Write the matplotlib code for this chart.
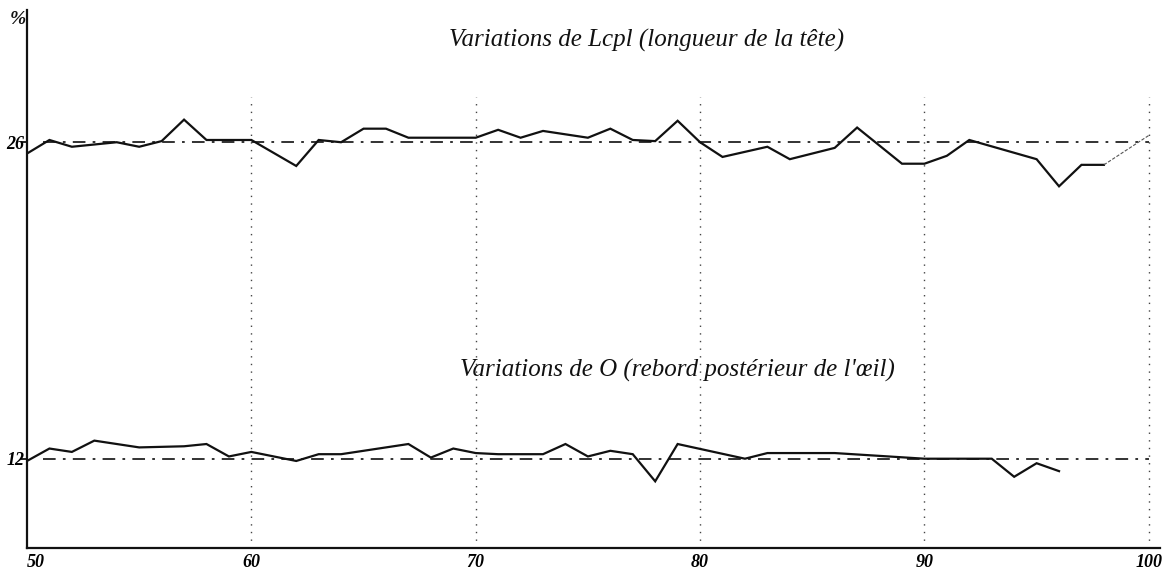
import numpy as np
import matplotlib
matplotlib.use("Agg")
from matplotlib import pyplot as plt

# Lcpl (longueur de la tete)
x_lcpl = [50, 51, 52, 54, 55, 56, 57, 58, 60, 62, 63, 64, 65, 66, 67, 70, 71, 72, 73,
          75, 76, 77, 78, 79, 80, 81, 83, 84, 86, 87, 89, 90, 91, 92, 95, 96, 97, 98]
lcpl = [25.5, 26.1, 25.8, 26.0, 25.8, 26.05, 27.0, 26.1, 26.1, 24.95, 26.1, 26.0, 26.6,
        26.6, 26.2, 26.2, 26.55, 26.2, 26.5, 26.2, 26.6, 26.1, 26.05, 26.95, 26.0, 25.35,
        25.8, 25.25, 25.75, 26.65, 25.05, 25.05, 25.4, 26.1, 25.25, 24.05, 25.0, 25.0]
# faint pencilled end of the Lcpl curve
x_lcpl_tail = [98, 100]
lcpl_tail = [25.0, 26.3]

# O (rebord posterieur de l'oeil)
x_o = [50, 51, 52, 53, 55, 57, 58, 59, 60, 62, 63, 64, 67, 68, 69, 70, 71, 73, 74, 75,
       76, 77, 78, 79, 82, 83, 86, 90, 93, 94, 95, 96]
o = [11.9, 12.45, 12.3, 12.8, 12.5, 12.55, 12.65, 12.1, 12.3, 11.9, 12.2, 12.2, 12.65,
     12.05, 12.45, 12.25, 12.2, 12.2, 12.65, 12.1, 12.35, 12.2, 11.0, 12.65, 12.0, 12.25,
     12.25, 12.0, 12.0, 11.2, 11.8, 11.45]

ref_levels = [26, 12]
ref_labels = ["26", "12"]
x_ticks = [50, 60, 70, 80, 90, 100]
x_labels = ["50", "60", "70", "80", "90", "100"]
grid_x = [60, 70, 80, 90, 100]

title_lcpl = "Variations de Lcpl (longueur de la tête)"
title_o = "Variations de O (rebord postérieur de l'œil)"

ink = "#111111"
hand = ["Liberation Serif", "DejaVu Serif"]

fig = plt.figure(figsize=(11.62, 5.71), dpi=100)
ax = fig.add_axes([27 / 1162, 23 / 571, 1133 / 1162, 538 / 571])
ax.set_xlim(50, 100.5)
ax.set_ylim(8.05, 31.85)

# dotted verticals every 10
ax.vlines(grid_x, 8.05, 28.0, colors="#444444", linestyles=(0, (1, 4.5)), linewidth=1.0)

# dash-dot reference levels
for lv in ref_levels:
    ax.plot([50.7, 100], [lv, lv], color="#222222", linewidth=1.3,
            linestyle=(0, (7, 4, 1.5, 4)))

ax.plot(x_lcpl, lcpl, color=ink, linewidth=1.6, solid_joinstyle="miter")
ax.plot(x_lcpl_tail, lcpl_tail, color="#555555", linewidth=0.8, linestyle=(0, (3, 1.5)))
ax.plot(x_o, o, color=ink, linewidth=1.6, solid_joinstyle="miter")

ax.text(77.6, 30.5, title_lcpl, fontsize=18, style="italic", family=hand,
        ha="center", va="center", color=ink)
ax.text(79.0, 15.9, title_o, fontsize=18, style="italic", family=hand,
        ha="center", va="center", color=ink)

# axes: only left and bottom, drawn like ink lines
for s in ["top", "right"]:
    ax.spines[s].set_visible(False)
ax.spines["left"].set_linewidth(1.6)
ax.spines["bottom"].set_linewidth(1.6)
ax.spines["left"].set_color(ink)
ax.spines["bottom"].set_color(ink)

ax.set_xticks(x_ticks)
ax.set_xticklabels(x_labels, fontsize=13, style="italic", fontweight="bold", family=hand)
ax.tick_params(axis="x", length=0, pad=4)
ax.get_xticklabels()[0].set_horizontalalignment("left")

ax.set_yticks(ref_levels)
ax.set_yticklabels(ref_labels, fontsize=13, style="italic", fontweight="bold", family=hand)
ax.tick_params(axis="y", length=4, width=1.2, direction="out", pad=-2)

fig.text(18 / 1162, 1 - 20 / 571, "%", fontsize=14, style="italic", fontweight="bold",
         family=hand, ha="center", va="center", color=ink)

fig.savefig("out.png", dpi=100)
